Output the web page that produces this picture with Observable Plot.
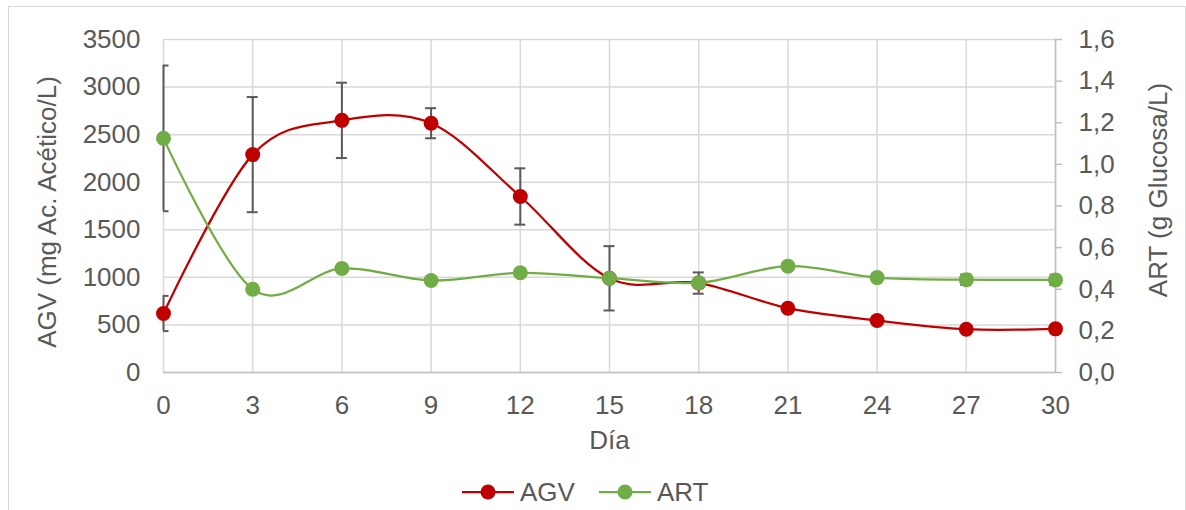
<!DOCTYPE html>
<html><head><meta charset="utf-8">
<script src="https://cdn.jsdelivr.net/npm/d3@7"></script>
<script src="https://cdn.jsdelivr.net/npm/@observablehq/plot@0.6"></script>
<style>
body{margin:0;background:#fff;font-family:"Liberation Sans",Arial,sans-serif;}
#wrap{position:relative;width:1186px;height:510px;overflow:hidden;background:#fff;}
#frame{position:absolute;left:8px;top:6px;width:1178px;height:530px;border:1.5px solid #d9d9d9;box-sizing:border-box;}
#chart{position:absolute;left:0;top:0;}
#legend{position:absolute;top:478px;left:462px;height:28px;line-height:28px;display:flex;align-items:center;font-size:26px;color:#595959;}
#legend .item{display:flex;align-items:center;}
#legend span{margin-left:6px;}
</style></head>
<body><div id="wrap"><div id="frame"></div><div id="chart"></div><div id="legend"></div></div>
<script>
// Data
const days = [0, 3, 6, 9, 12, 15, 18, 21, 24, 27, 30];
const agv = [620, 2290, 2650, 2620, 1850, 990, 940, 676, 547, 455, 459];
const agvErr = [185, 605, 396, 158, 296, 338, 112, 0, 0, 0, 0];
const art = [1.125, 0.40, 0.50, 0.442, 0.479, 0.453, 0.431, 0.511, 0.456, 0.446, 0.445];
const artErr = [0.35, 0, 0, 0, 0, 0, 0, 0, 0, 0.025, 0.025];
const agvTicks = [0, 500, 1000, 1500, 2000, 2500, 3000, 3500];
const artTicks = [0, 0.2, 0.4, 0.6, 0.8, 1.0, 1.2, 1.4, 1.6];
const seriesNames = ["AGV", "ART"];
const colors = ["#C00000", "#70AD47"];

const k = 3500 / 1.6;
const rows = days.map((d, i) => ({day: d, agv: agv[i], agvErr: agvErr[i], art: art[i] * k, artErr: artErr[i] * k}));
const agvE = rows.filter(r => r.agvErr > 0);
const artE = rows.filter(r => r.artErr > 0);
const fmt = v => v.toFixed(1).replace(".", ",");
const grid = "#d9d9d9", axisC = "#bfbfbf", txt = "#595959", errC = "#595959";

function errMarks(data, v, e) {
  return [
    Plot.ruleX(data, {x: "day", y1: d => d[v] - d[e], y2: d => d[v] + d[e], stroke: errC, strokeWidth: 2}),
    Plot.ruleY(data, {y: d => d[v] + d[e], x1: "day", x2: "day", insetLeft: -5.5, insetRight: -5.5, stroke: errC, strokeWidth: 2, clip: true}),
    Plot.ruleY(data, {y: d => d[v] - d[e], x1: "day", x2: "day", insetLeft: -5.5, insetRight: -5.5, stroke: errC, strokeWidth: 2, clip: true})
  ];
}

const plot = Plot.plot({
  width: 1186, height: 460,
  marginLeft: 163, marginRight: 131, marginTop: 39, marginBottom: 88,
  style: {fontFamily: "'Liberation Sans', Arial, sans-serif", fontSize: "26px", color: txt, background: "transparent", overflow: "visible"},
  x: {domain: [0, 30]},
  y: {domain: [0, 3500]},
  marks: [
    Plot.gridX(days, {stroke: grid, strokeOpacity: 1, strokeWidth: 1.5}),
    Plot.gridY(agvTicks, {stroke: grid, strokeOpacity: 1, strokeWidth: 1.5}),
    Plot.ruleY([0], {stroke: axisC, strokeWidth: 1.5}),
    Plot.ruleX([30], {stroke: axisC, strokeWidth: 1.5}),
    Plot.ruleY(artTicks.map(v => v * k), {y: d => d, x1: () => 30, x2: () => 30, insetRight: -7, stroke: axisC, strokeWidth: 1.5}),
    Plot.axisX(days, {tickSize: 0, tickPadding: 23, label: null, fill: txt}),
    Plot.axisY(agvTicks, {anchor: "left", tickSize: 0, tickPadding: 23, tickFormat: d => String(d), label: null, fill: txt}),
    Plot.axisY(artTicks.map(v => v * k), {anchor: "right", tickSize: 0, tickPadding: 23, tickFormat: v => fmt(v / k), label: null, fill: txt}),
    Plot.text(["Día"], {frameAnchor: "bottom", lineAnchor: "middle", textAnchor: "middle", dy: 68, fill: txt}),
    Plot.text(["AGV (mg Ac. Acético/L)"], {frameAnchor: "left", textAnchor: "middle", lineAnchor: "middle", rotate: -90, dx: -116, dy: 6, fill: txt}),
    Plot.text(["ART (g Glucosa/L)"], {frameAnchor: "right", textAnchor: "middle", lineAnchor: "middle", rotate: -90, dx: 103, dy: -16, fill: txt}),
    Plot.line(rows, {x: "day", y: "agv", stroke: colors[0], strokeWidth: 2.25, curve: "cardinal"}),
    ...errMarks(agvE, "agv", "agvErr"),
    Plot.dot(rows, {x: "day", y: "agv", r: 7.5, fill: colors[0]}),
    Plot.line(rows, {x: "day", y: "art", stroke: colors[1], strokeWidth: 2.25, curve: "cardinal"}),
    ...errMarks(artE, "art", "artErr"),
    Plot.dot(rows, {x: "day", y: "art", r: 7.5, fill: colors[1]})
  ]
});
document.getElementById("chart").appendChild(plot);

const leg = document.getElementById("legend");
seriesNames.forEach((name, i) => {
  const it = document.createElement("div");
  it.className = "item";
  if (i > 0) it.style.marginLeft = "24px";
  it.innerHTML = `<svg width="52" height="20"><line x1="0" x2="52" y1="10" y2="10" stroke="${colors[i]}" stroke-width="2.25"/><circle cx="26" cy="10" r="7.5" fill="${colors[i]}"/></svg><span>${name}</span>`;
  leg.appendChild(it);
});
</script>
</body></html>
